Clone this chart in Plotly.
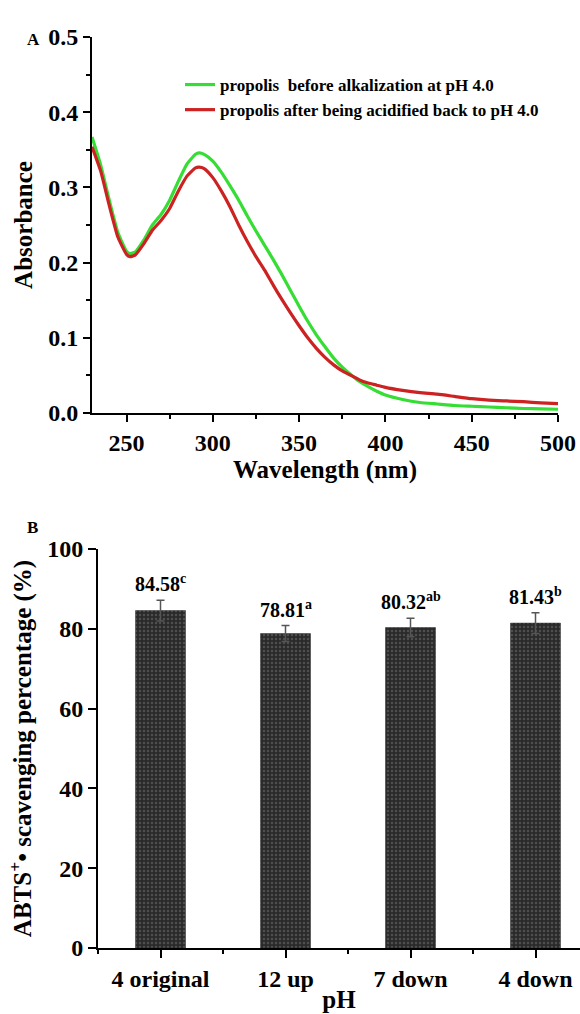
import plotly.graph_objects as go

# ---------------- Panel A data ----------------
wavelength = [230, 235, 240, 245, 250, 252, 255, 260, 265, 270, 275, 280, 285, 290, 292,
              295, 300, 305, 310, 315, 320, 325, 330, 335, 340, 345, 350, 355, 360, 365,
              370, 375, 380, 385, 390, 395, 400, 410, 420, 430, 440, 450, 460, 470, 480,
              490, 500]
abs_before = [0.367, 0.330, 0.283, 0.240, 0.215, 0.212, 0.214, 0.230, 0.250, 0.264, 0.283,
              0.308, 0.331, 0.344, 0.346, 0.344, 0.335, 0.320, 0.302, 0.283, 0.262, 0.242,
              0.223, 0.204, 0.184, 0.163, 0.142, 0.122, 0.104, 0.088, 0.073, 0.061, 0.051,
              0.042, 0.035, 0.029, 0.024, 0.018, 0.014, 0.012, 0.010, 0.009, 0.008, 0.007,
              0.006, 0.0055, 0.005]
abs_after = [0.354, 0.322, 0.276, 0.234, 0.211, 0.208, 0.210, 0.225, 0.243, 0.256, 0.272,
             0.295, 0.315, 0.326, 0.327, 0.325, 0.313, 0.295, 0.274, 0.250, 0.228, 0.208,
             0.190, 0.170, 0.151, 0.133, 0.116, 0.100, 0.086, 0.074, 0.064, 0.056, 0.050,
             0.044, 0.040, 0.037, 0.034, 0.030, 0.027, 0.025, 0.022, 0.019, 0.017, 0.016,
             0.015, 0.0135, 0.0125]
name_before = "propolis\u00a0 before alkalization at pH 4.0"
name_after = "propolis after being acidified back to pH 4.0"

# ---------------- Panel B data ----------------
ph_labels = ["4 original", "12 up", "7 down", "4 down"]
scavenging = [84.58, 78.81, 80.32, 81.43]
scavenging_err = [2.6, 2.0, 2.3, 2.6]
sig_letters = ["c", "a", "ab", "b"]

FONT = "Liberation Serif"
W, H = 580, 1014

def px_x(p):
    return p / W

def px_y(p):
    return 1 - p / H

fig = go.Figure()

fig.add_trace(go.Scatter(x=wavelength, y=abs_before, mode="lines", name=name_before,
                         line=dict(color="#35dd35", width=3.2, shape="spline", smoothing=0.5),
                         xaxis="x", yaxis="y"))
fig.add_trace(go.Scatter(x=wavelength, y=abs_after, mode="lines", name=name_after,
                         line=dict(color="#cc2222", width=3.2, shape="spline", smoothing=0.5),
                         xaxis="x", yaxis="y"))

xpos = list(range(len(ph_labels)))
fig.add_trace(go.Bar(
    x=xpos, y=scavenging, width=0.4, showlegend=False,
    error_y=dict(type="data", array=scavenging_err, color="#555555", thickness=1.5, width=4),
    marker=dict(color="#2a2a2a", line=dict(color="#2a2a2a", width=0.5),
                pattern=dict(shape=".", fgcolor="#747474", bgcolor="#2a2a2a", size=4, solidity=0.3)),
    xaxis="x2", yaxis="y2"))

bold = dict(family=FONT, color="black", weight="bold")
tick_font = dict(bold, size=24)
title_font = dict(bold, size=25)

axis_common = dict(showline=True, linewidth=2, linecolor="black", showgrid=False, zeroline=False,
                   ticks="outside", tickwidth=2, tickcolor="black", ticklen=7,
                   tickfont=tick_font, automargin=False)

annotations = []
for i, (v, e, l) in enumerate(zip(scavenging, scavenging_err, sig_letters)):
    annotations.append(dict(x=xpos[i], y=v + e, xref="x2", yref="y2", text=f"{v:.2f}<sup>{l}</sup>",
                            showarrow=False, yanchor="bottom", yshift=3,
                            font=dict(bold, size=20)))
annotations.append(dict(x=px_x(25), y=px_y(28), xref="paper", yref="paper", text="A",
                        showarrow=False, font=dict(bold, size=17)))
annotations.append(dict(x=px_x(25), y=px_y(527), xref="paper", yref="paper", text="B",
                        showarrow=False, font=dict(bold, size=17)))

fig.update_layout(
    width=W, height=H,
    margin=dict(l=0, r=0, t=0, b=0),
    paper_bgcolor="white", plot_bgcolor="white",
    font=dict(family=FONT, color="black", size=16),
    showlegend=True,
    legend=dict(x=px_x(180), y=px_y(67), xanchor="left", yanchor="top",
                bgcolor="rgba(0,0,0,0)", font=dict(bold, size=17), tracegroupgap=0),
    xaxis=dict(axis_common, domain=[px_x(92), px_x(558)], range=[230, 500],
               tick0=250, dtick=50,
               minor=dict(ticks="outside", tick0=250, dtick=25, ticklen=4, tickwidth=2, tickcolor="black"),
               title=dict(text="Wavelength (nm)", font=title_font, standoff=0),
               anchor="y"),
    yaxis=dict(axis_common, domain=[px_y(413), px_y(37)], range=[0, 0.5],
               dtick=0.1, tickformat=".1f",
               minor=dict(ticks="outside", dtick=0.05, ticklen=4, tickwidth=2, tickcolor="black"),
               title=dict(text="Absorbance", font=title_font, standoff=8),
               anchor="x"),
    xaxis2=dict(axis_common, domain=[px_x(98), 1.0], range=[-0.5, 3.356],
                tickvals=xpos, ticktext=ph_labels, ticklen=8,
                minor=dict(ticks="outside", tick0=0.5, dtick=1, ticklen=4, tickwidth=2, tickcolor="black"),
                title=dict(text="pH", font=title_font, standoff=0),
                anchor="y2"),
    yaxis2=dict(axis_common, domain=[px_y(948), px_y(549)], range=[0, 100],
                dtick=20, ticklen=8,
                title=dict(text="ABTS<sup>+</sup>\u2022 scavenging percentage (%)", font=title_font, standoff=8),
                anchor="x2"),
    annotations=annotations,
)

fig.write_html("out.html")
